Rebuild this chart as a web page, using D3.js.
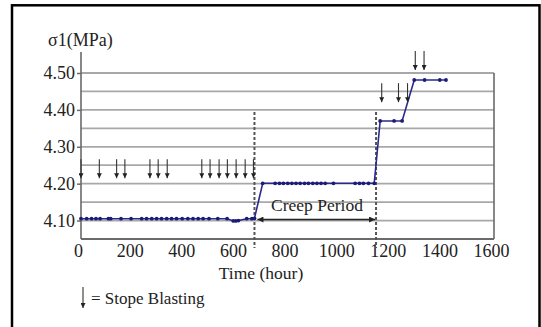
<!DOCTYPE html>
<html><head><meta charset="utf-8">
<script src="https://cdn.jsdelivr.net/npm/d3@7"></script>
<style>html,body{margin:0;padding:0;background:#fff;}svg{display:block;}</style>
</head><body>
<script>
// ---- data ----
const hours = [0,22,41,58,74,106,115,155,194,235,254,274,293,312,332,351,370,392,414,434,454,473,496,530,566,590,600,610,642,662,672,
  704,752,769,784,801,817,833,849,866,881,898,914,930,946,978,1062,1079,1094,1114,1136,
  1159,1213,1244,1291,1331,1390,1414];
const stress = [4.105,4.105,4.105,4.105,4.105,4.105,4.105,4.105,4.105,4.105,4.105,4.105,4.105,4.105,4.105,4.105,4.105,4.105,4.105,4.105,4.105,4.105,4.105,4.105,4.105,4.099,4.099,4.100,4.105,4.105,4.106,
  4.201,4.201,4.201,4.201,4.201,4.201,4.201,4.201,4.201,4.201,4.201,4.201,4.201,4.201,4.201,4.201,4.201,4.201,4.201,4.201,
  4.370,4.370,4.370,4.481,4.481,4.481,4.481];
const blastHours = [0,71,138,170,267,299,334,468,500,535,567,601,636,668,1165,1230,1265,1295,1329];
const blastTip   = [4.215,4.215,4.215,4.215,4.215,4.215,4.215,4.215,4.215,4.215,4.215,4.215,4.215,4.215,4.421,4.421,4.421,4.508,4.508];
const creepStart = 672, creepEnd = 1143;
const xTicks = [0,200,400,600,800,1000,1200,1400,1600];
const yLabels = [4.10,4.20,4.30,4.40,4.50];
const yGrid = [4.10,4.15,4.20,4.25,4.30,4.35,4.40,4.45,4.50];
const yTitle = "σ1(MPa)", xTitle = "Time (hour)", creepLabel = "Creep Period", legendLabel = "= Stope Blasting";

// ---- drawing ----
const W = 541, H = 327;
const svg = d3.select("body").append("svg").attr("width", W).attr("height", H);
const font = "'Liberation Serif','Times New Roman',serif";
const x = d3.scaleLinear().domain([0,1600]).range([81,494]);
const y = d3.scaleLinear().domain([4.05,4.50]).range([239,73]);

const defs = svg.append("defs");
defs.append("marker").attr("id","ah").attr("viewBox","0 0 10 10").attr("refX",10).attr("refY",5)
  .attr("markerWidth",5).attr("markerHeight",5).attr("orient","auto-start-reverse").attr("markerUnits","userSpaceOnUse")
  .append("path").attr("d","M0,0L10,5L0,10Z").attr("fill","#222");
defs.append("marker").attr("id","ah2").attr("viewBox","0 0 10 10").attr("refX",10).attr("refY",5)
  .attr("markerWidth",8).attr("markerHeight",6).attr("orient","auto-start-reverse").attr("markerUnits","userSpaceOnUse")
  .append("path").attr("d","M0,0L10,5L0,10Z").attr("fill","#222");

// outer frame
svg.append("rect").attr("x",12).attr("y",5.3).attr("width",527.5).attr("height",340)
  .attr("fill","none").attr("stroke","#000").attr("stroke-width",2.5);

// gridlines
svg.append("g").selectAll("line").data(yGrid).join("line")
  .attr("x1",x(0)).attr("x2",x(1600)).attr("y1",d=>y(d)).attr("y2",d=>y(d))
  .attr("stroke","#a8a8a8").attr("stroke-width",1.8);

// axes lines
svg.append("line").attr("x1",x(0)).attr("x2",x(0)).attr("y1",52).attr("y2",y(4.05)).attr("stroke","#6a6a6a").attr("stroke-width",1.6);
svg.append("line").attr("x1",x(1600)).attr("x2",x(1600)).attr("y1",y(4.50)).attr("y2",y(4.05)).attr("stroke","#6a6a6a").attr("stroke-width",1.6);
svg.append("line").attr("x1",x(0)).attr("x2",x(1600)).attr("y1",y(4.05)).attr("y2",y(4.05)).attr("stroke","#6a6a6a").attr("stroke-width",1.8);

// y tick labels via axis
const yAxis = svg.append("g").attr("transform",`translate(${x(0)},0)`)
  .call(d3.axisLeft(y).tickValues(yLabels).tickFormat(d3.format(".2f")).tickSize(4).tickPadding(1));
yAxis.select(".domain").remove();
yAxis.selectAll("line").attr("stroke","#6a6a6a").attr("stroke-width",1.5);
yAxis.selectAll("text").attr("font-family",font).attr("font-size",18).attr("fill","#222").attr("dx",-1);

// x tick labels
const xAxis = svg.append("g").attr("transform",`translate(0,${y(4.05)})`)
  .call(d3.axisBottom(x).tickValues(xTicks).tickFormat(d3.format("d")).tickSize(0).tickPadding(5));
xAxis.select(".domain").remove();
xAxis.selectAll("text").attr("font-family",font).attr("font-size",18).attr("fill","#222").attr("dy","0.7em").attr("dx",-3);

// titles
svg.append("text").attr("x",48).attr("y",46).attr("font-family",font).attr("font-size",18).attr("fill","#222").text(yTitle);
svg.append("text").attr("x",261).attr("y",279).attr("text-anchor","middle").attr("font-family",font).attr("font-size",17.5).attr("fill","#222").text(xTitle);

// creep period dashed lines
svg.append("g").selectAll("line").data([creepStart, creepEnd]).join("line")
  .attr("x1",d=>x(d)).attr("x2",d=>x(d)).attr("y1",y(4.40)+2).attr("y2",y(4.05)+9)
  .attr("stroke","#555").attr("stroke-width",2).attr("stroke-dasharray","3,2");

// creep double arrow
svg.append("line").attr("x1",x(creepStart)+3).attr("x2",x(creepEnd)-1).attr("y1",219.5).attr("y2",219.5)
  .attr("stroke","#222").attr("stroke-width",1.3).attr("marker-start","url(#ah2)").attr("marker-end","url(#ah2)");
svg.append("text").attr("x",317).attr("y",211).attr("text-anchor","middle").attr("font-family",font).attr("font-size",17.5).attr("fill","#222").text(creepLabel);

// data line
const pts = hours.map((h,i)=>[h,stress[i]]);
svg.append("path").datum(pts).attr("fill","none").attr("stroke","#2a2a8c").attr("stroke-width",1.6)
  .attr("d", d3.line().x(d=>x(d[0])).y(d=>y(d[1])));
svg.append("g").selectAll("circle").data(pts).join("circle")
  .attr("cx",d=>x(d[0])).attr("cy",d=>y(d[1])).attr("r",1.9).attr("fill","#1c1c78");

// blasting arrows
svg.append("g").selectAll("line").data(blastHours.map((h,i)=>[h,blastTip[i]])).join("line")
  .attr("x1",d=>x(d[0])).attr("x2",d=>x(d[0])).attr("y1",d=>y(d[1])-19).attr("y2",d=>y(d[1]))
  .attr("stroke","#333").attr("stroke-width",1.1).attr("marker-end","url(#ah)");

// legend
svg.append("line").attr("x1",83).attr("x2",83).attr("y1",287).attr("y2",308)
  .attr("stroke","#333").attr("stroke-width",1.1).attr("marker-end","url(#ah)");
svg.append("text").attr("x",91).attr("y",304).attr("font-family",font).attr("font-size",17).attr("fill","#222").text(legendLabel);
</script>
</body></html>
